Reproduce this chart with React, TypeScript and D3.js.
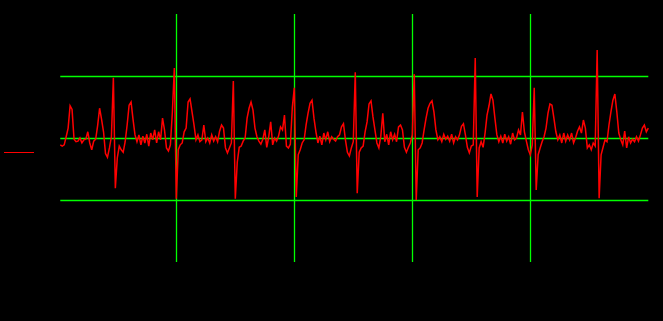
import React from "react";
import * as d3 from "d3";

// Signal samples (mV), 60 samples per time unit, first sample at t = 1/60
const signal: number[] = [
  -0.11, -0.13, -0.11, 0.02, 0.16, 0.52, 0.46, -0.02, -0.06, -0.05,
  0.0, -0.08, -0.03, -0.02, 0.1, -0.08, -0.19, -0.05, -0.02, 0.2,
  0.48, 0.3, 0.1, -0.25, -0.31, -0.16, 0.02, 0.97, -0.81, -0.32,
  -0.13, -0.19, -0.23, -0.06, 0.21, 0.53, 0.58, 0.3, 0.05, -0.06,
  0.05, -0.11, 0.03, -0.08, 0.06, -0.13, 0.08, -0.03, 0.13, -0.08,
  0.1, -0.03, 0.32, 0.13, -0.16, -0.21, -0.11, 0.42, 1.13, -0.98,
  -0.19, -0.11, -0.08, 0.1, 0.16, 0.58, 0.63, 0.42, 0.21, -0.03,
  0.05, -0.06, -0.03, 0.21, -0.06, 0.0, -0.08, 0.05, -0.05, 0.02,
  -0.06, 0.11, 0.21, 0.16, -0.16, -0.24, -0.16, -0.08, 0.92, -0.98,
  -0.39, -0.15, -0.13, -0.05, 0.0, 0.32, 0.48, 0.58, 0.45, 0.16,
  0.02, -0.05, -0.1, -0.02, 0.13, -0.15, 0.02, 0.26, -0.11, 0.0,
  -0.05, 0.03, 0.18, 0.13, 0.37, -0.13, -0.16, -0.1, 0.5, 0.81,
  -0.95, -0.27, -0.19, -0.08, -0.03, 0.21, 0.4, 0.56, 0.61, 0.32,
  0.1, -0.08, 0.03, -0.11, 0.08, -0.03, 0.1, -0.06, 0.02, -0.02,
  -0.05, 0.02, 0.05, 0.18, 0.23, -0.03, -0.23, -0.29, -0.16, -0.06,
  1.06, -0.89, -0.23, -0.16, -0.13, 0.1, 0.26, 0.55, 0.6, 0.34,
  0.13, -0.08, -0.16, 0.03, 0.4, -0.06, 0.06, -0.11, 0.1, -0.03,
  0.06, -0.06, 0.18, 0.21, 0.13, -0.15, -0.23, -0.15, -0.08, 0.05,
  1.03, -1.0, -0.19, -0.16, -0.08, 0.13, 0.32, 0.48, 0.56, 0.6,
  0.42, 0.13, -0.03, 0.02, -0.06, 0.06, -0.02, 0.03, -0.05, 0.06,
  -0.08, 0.02, -0.03, 0.05, 0.19, 0.23, 0.05, -0.15, -0.24, -0.13,
  -0.11, 1.29, -0.95, -0.16, -0.06, -0.15, 0.08, 0.37, 0.52, 0.71,
  0.61, 0.32, 0.05, -0.06, 0.03, -0.08, 0.06, -0.05, 0.02, -0.1,
  0.08, -0.03, 0.0, 0.13, 0.05, 0.42, 0.1, -0.05, -0.19, -0.27,
  -0.11, 0.81, -0.84, -0.27, -0.16, -0.06, 0.02, 0.16, 0.4, 0.55,
  0.53, 0.32, 0.1, -0.03, 0.05, -0.08, 0.08, -0.05, 0.05, -0.03,
  0.08, -0.08, 0.0, 0.11, 0.18, 0.08, 0.29, 0.16, -0.16, -0.11,
  -0.19, -0.08, -0.13, 1.42, -0.97, -0.27, -0.15, -0.03, -0.06, 0.21,
  0.42, 0.61, 0.71, 0.42, 0.08, -0.03, -0.11, 0.11, -0.16, 0.02,
  -0.08, -0.02, -0.06, 0.02, -0.05, 0.05, 0.16, 0.21, 0.1, 0.16,
];
const samplesPerUnit = 60;
const xGrid: number[] = [1, 2, 3, 4];
const yGrid: number[] = [-1, 0, 1];

const W = 663;
const H = 321;

export default function App() {
  const x = d3.scaleLinear().domain([0, 5]).range([58.3, 648.3]);
  const y = d3.scaleLinear().domain([-2, 2]).range([262, 14]);
  const t = (i: number) => (i + 1) / samplesPerUnit;
  const line = d3
    .line<number>()
    .x((_, i) => x(t(i)))
    .y((d) => y(d));
  const xStart = x(t(0));
  const xEnd = x(t(signal.length - 1));

  return (
    <svg
      width={W}
      height={H}
      style={{ position: "absolute", left: 0, top: 0, display: "block" }}
    >
      <rect x={0} y={0} width={W} height={H} fill="#000" />
      {yGrid.map((v) => (
        <line
          key={"h" + v}
          x1={xStart}
          x2={xEnd}
          y1={Math.round(y(v)) + 0.5}
          y2={Math.round(y(v)) + 0.5}
          stroke="#00ff00"
          strokeWidth={1.3}
        />
      ))}
      {xGrid.map((v) => (
        <line
          key={"v" + v}
          x1={Math.round(x(v)) + 0.5}
          x2={Math.round(x(v)) + 0.5}
          y1={y(2)}
          y2={y(-2)}
          stroke="#00ff00"
          strokeWidth={1.3}
        />
      ))}
      <path d={line(signal) || ""} fill="none" stroke="#ff0000" strokeWidth={1.5} strokeLinejoin="miter" />
      <line x1={4} x2={34} y1={152.5} y2={152.5} stroke="#ff0000" strokeWidth={1} />
    </svg>
  );
}
